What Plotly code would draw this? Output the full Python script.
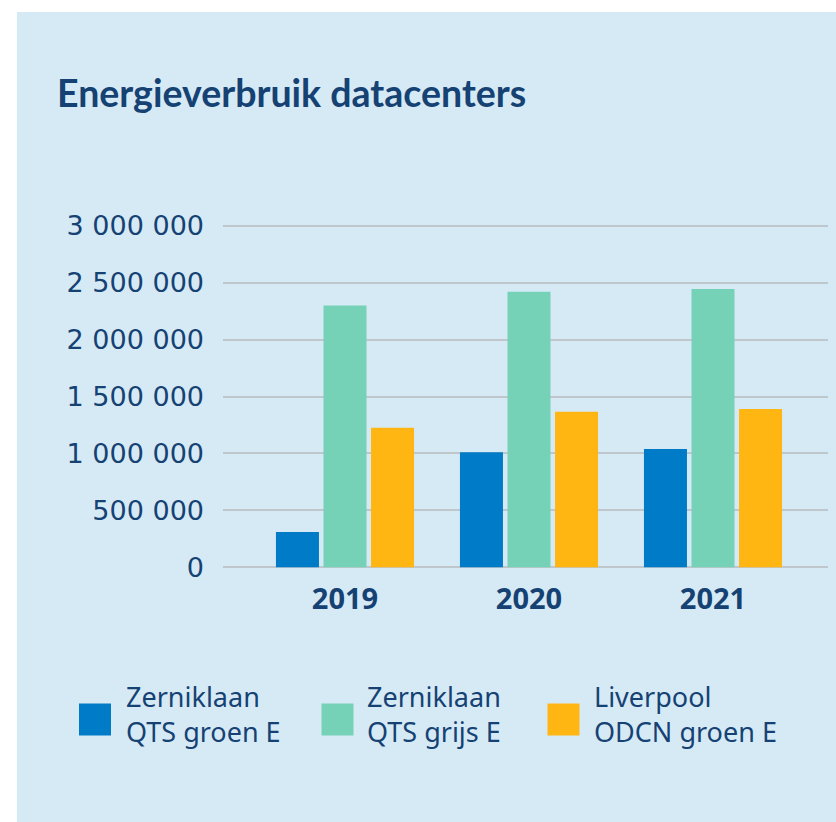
import plotly.graph_objects as go

# ---- data ----
years = ["2019", "2020", "2021"]
series_names = ["Zerniklaan<br>QTS groen E", "Zerniklaan<br>QTS grijs E", "Liverpool<br>ODCN groen E"]
qts_groen = [310000, 1010000, 1040000]
qts_grijs = [2300000, 2420000, 2445000]
odcn_groen = [1225000, 1365000, 1390000]
y_tick_values = [0, 500000, 1000000, 1500000, 2000000, 2500000, 3000000]
y_tick_labels = ["0", "500 000", "1 000 000", "1 500 000", "2 000 000", "2 500 000", "3 000 000"]
title_text = "Energieverbruik datacenters"

colors = ["#007bc7", "#76d2b6", "#ffb612"]
bg = "#d6eaf6"
text_col = "#154273"

W, H = 836, 822
Y0_PX, Y3M_PX = 567.3, 225.7  # pixel rows of 0 and 3 000 000
PL, PR, PT, PB = 223, 828, 222, 571  # plot area in pixels
per_px = 3000000 / (Y0_PX - Y3M_PX)
Y_HI = (Y0_PX - PT) * per_px
Y_LO = -(PB - Y0_PX) * per_px


def px(x, y):
    return (x - PL) / (PR - PL), (PB - y) / (PB - PT)


fig = go.Figure()
for name, vals, c in zip(series_names, [qts_groen, qts_grijs, odcn_groen], colors):
    fig.add_trace(go.Bar(x=years, y=vals, name=name, marker=dict(color=c, line=dict(width=0)),
                         showlegend=False))

shapes = []
# panel background
x0, y0 = px(17, 12)
x1, y1 = px(836, 822)
shapes.append(dict(type="rect", xref="paper", yref="paper", x0=x0, y0=y1, x1=x1, y1=y0,
                   fillcolor=bg, line=dict(width=0), layer="below"))

annotations = []
legend_sq_x = [79, 321.5, 547.5]
legend_txt_x = [123.5, 364.5, 591.5]
for i, name in enumerate(series_names):
    sx0, sy0 = px(legend_sq_x[i], 703.5)
    sx1, sy1 = px(legend_sq_x[i] + 32, 735.5)
    shapes.append(dict(type="rect", xref="paper", yref="paper", x0=sx0, y0=sy1, x1=sx1, y1=sy0,
                       fillcolor=colors[i], line=dict(width=0)))
    tx, ty = px(legend_txt_x[i], 713.5)
    annotations.append(dict(text=name, xref="paper", yref="paper", x=tx, y=ty,
                            xanchor="left", yanchor="middle", align="left", showarrow=False,
                            font=dict(family="Noto Sans", size=27, color=text_col)))

fig.update_layout(
    width=W, height=H,
    margin=dict(l=PL, r=W - PR, t=PT, b=H - PB, pad=0),
    paper_bgcolor="white",
    plot_bgcolor="rgba(0,0,0,0)",
    barmode="group", bargap=0.225, bargroupgap=0.095,
    showlegend=False,
    title=dict(text=title_text, xref="container", yref="container", x=57 / W, y=1 - 94 / H,
               xanchor="left", yanchor="middle",
               font=dict(family="Lato", size=37.5, color=text_col, weight="bold")),
    shapes=shapes,
    annotations=annotations,
    xaxis=dict(type="category", range=[-0.663, 2.625], showgrid=False, zeroline=False,
               showline=False, ticks="", ticklabelstandoff=8,
               tickfont=dict(family="Open Sans", size=29, color=text_col, weight="bold")),
    yaxis=dict(range=[Y_LO, Y_HI], tickvals=y_tick_values, ticktext=y_tick_labels,
               showgrid=True, gridcolor="#bfc6cc", gridwidth=1.5, zeroline=False,
               showline=False, ticks="", ticklabelstandoff=18,
               tickfont=dict(family="DejaVu Sans", size=27, color=text_col)),
)

fig.write_html("out.html", post_script="document.body.style.margin='0';",
               config={"displayModeBar": False})
